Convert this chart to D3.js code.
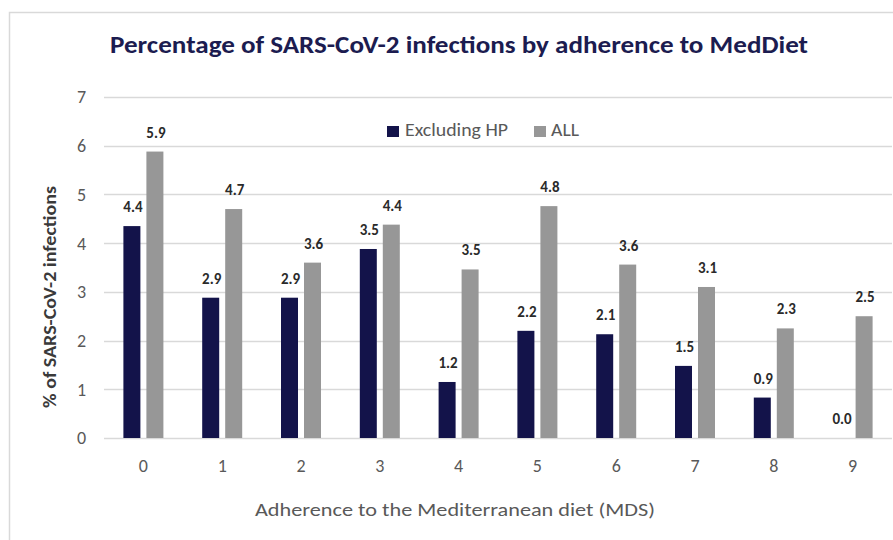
<!DOCTYPE html>
<html><head><meta charset="utf-8">
<script src="https://cdn.jsdelivr.net/npm/d3@7"></script>
<style>body{margin:0;background:#fff}svg{display:block}</style>
</head><body>
<script>
const categories = ["0","1","2","3","4","5","6","7","8","9"];
const seriesNames = ["Excluding HP","ALL"];
const excludingHP = [4.35, 2.88, 2.88, 3.88, 1.15, 2.2, 2.13, 1.48, 0.83, 0.0];
const allValues   = [5.88, 4.7, 3.6, 4.38, 3.46, 4.76, 3.56, 3.1, 2.25, 2.5];
const excludingHPLabels = ["4.4","2.9","2.9","3.5","1.2","2.2","2.1","1.5","0.9","0.0"];
const allLabels         = ["5.9","4.7","3.6","4.4","3.5","4.8","3.6","3.1","2.3","2.5"];
const yTicks = [0,1,2,3,4,5,6,7];

const W = 893, H = 540;
const font = "Carlito, Calibri, 'Liberation Sans Narrow', 'Open Sans', sans-serif";
const colors = ["#13134a", "#979797"];
const svg = d3.select("body").append("svg").attr("width", W).attr("height", H);

svg.append("rect").attr("x", 9.5).attr("y", 12.5).attr("width", 900).attr("height", 600)
  .attr("fill", "#fff").attr("stroke", "#d9d9d9").attr("stroke-width", 1.5);

const plot = {left: 104, right: 892, top: 97, bottom: 438};
const x = d3.scaleBand().domain(categories).range([plot.left, plot.right]).paddingInner(0).paddingOuter(0);
const y = d3.scaleLinear().domain([0, 7]).range([plot.bottom, plot.top]);
const barW = 17, gap = 6;
const offset = [-(barW + gap / 2), gap / 2];

// gridlines
svg.append("g").selectAll("line").data(yTicks).join("line")
  .attr("x1", plot.left).attr("x2", plot.right)
  .attr("y1", d => Math.round(y(d)) + 0.5).attr("y2", d => Math.round(y(d)) + 0.5)
  .attr("stroke", "#d9d9d9").attr("stroke-width", 1.5);

// y axis labels
svg.append("g").selectAll("text").data(yTicks).join("text")
  .attr("x", 86).attr("y", d => y(d)).attr("dy", "0.36em")
  .attr("text-anchor", "end").attr("font-family", font).attr("font-size", 18)
  .attr("fill", "#595959").text(d => d);

// x axis labels
svg.append("g").selectAll("text").data(categories).join("text")
  .attr("x", d => x(d) + x.bandwidth() / 2).attr("y", 472)
  .attr("text-anchor", "middle").attr("font-family", font).attr("font-size", 18)
  .attr("fill", "#595959").text(d => d);

const series = [excludingHP, allValues];
const labels = [excludingHPLabels, allLabels];
series.forEach((vals, si) => {
  const g = svg.append("g");
  g.selectAll("rect").data(vals).join("rect")
    .attr("x", (d, i) => x(categories[i]) + x.bandwidth() / 2 + offset[si])
    .attr("y", d => y(d)).attr("width", barW)
    .attr("height", d => y(0) - y(d)).attr("fill", colors[si]);
  g.selectAll("text").data(vals).join("text")
    .attr("x", (d, i) => x(categories[i]) + x.bandwidth() / 2 + offset[si] + barW / 2 + 1)
    .attr("y", d => y(d) - 14)
    .attr("text-anchor", "middle").attr("font-family", font).attr("font-size", 15)
    .attr("font-weight", "bold").attr("fill", "#2a2a2a")
    .text((d, i) => labels[si][i]);
});

// title
svg.append("text").attr("x", 459).attr("y", 53).attr("text-anchor", "middle")
  .attr("font-family", font).attr("font-size", 24).attr("font-weight", "bold")
  .attr("fill", "#1c1c50").attr("textLength", 698).attr("lengthAdjust", "spacingAndGlyphs")
  .text("Percentage of SARS-CoV-2 infections by adherence to MedDiet");

// legend
const legX = [387, 534];
const legTextX = [405, 551];
const legTextW = [103, 28];
seriesNames.forEach((n, i) => {
  svg.append("rect").attr("x", legX[i]).attr("y", 126).attr("width", 12).attr("height", 11).attr("fill", colors[i]);
  svg.append("text").attr("x", legTextX[i]).attr("y", 136)
    .attr("font-family", font).attr("font-size", 19).attr("fill", "#595959")
    .attr("textLength", legTextW[i]).attr("lengthAdjust", "spacingAndGlyphs").text(n);
});

// axis titles
svg.append("text").attr("x", 455).attr("y", 516).attr("text-anchor", "middle")
  .attr("font-family", font).attr("font-size", 19).attr("fill", "#595959")
  .attr("textLength", 400).attr("lengthAdjust", "spacingAndGlyphs")
  .text("Adherence to the Mediterranean diet (MDS)");
svg.append("text").attr("transform", "translate(56,297) rotate(-90)").attr("text-anchor", "middle")
  .attr("font-family", font).attr("font-size", 18).attr("font-weight", "bold").attr("fill", "#3a3a3a")
  .attr("textLength", 222).attr("lengthAdjust", "spacingAndGlyphs")
  .text("% of SARS-CoV-2 infections");
</script>
</body></html>
